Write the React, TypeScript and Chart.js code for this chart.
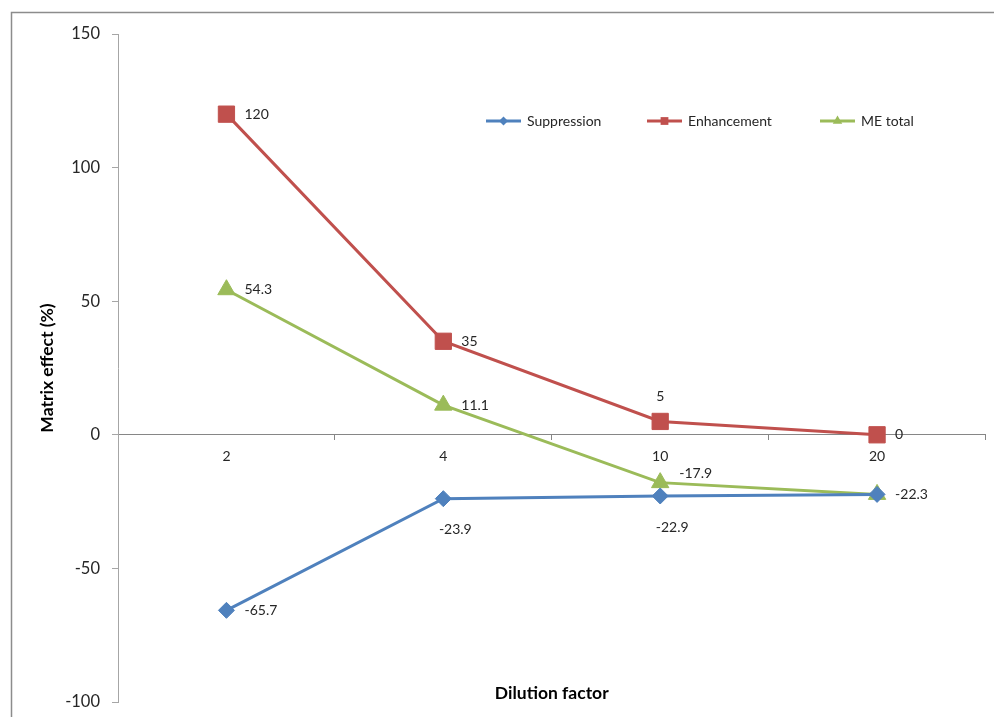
import React, { useEffect, useRef } from 'react';
import { Chart, registerables } from 'chart.js';

Chart.register(...registerables);

const categories = ['2', '4', '10', '20'];
const suppression = [-65.7, -23.9, -22.9, -22.3];
const enhancement = [120, 35, 5, 0];
const meTotal = [54.3, 11.1, -17.9, -22.3];
const seriesNames = ['Suppression', 'Enhancement', 'ME total'];
const yMin = -100;
const yMax = 150;
const yStep = 50;
const xTitle = 'Dilution factor';
const yTitle = 'Matrix effect (%)';

// label placement (style only)
const labelPlacement: (string | null)[][] = [
  ['right', 'below', 'below', null],
  ['right', 'right', 'above', 'right'],
  ['right', 'right', 'aboveRight', 'right'],
];

const BLUE = '#4F81BD';
const RED = '#C0504D';
const GREEN = '#9BBB59';
const FONT = 'Lato, "Open Sans", sans-serif';
const TEXT = '#262626';
const CANVAS_W = 998;
const CANVAS_H = 717;

const frame = {
  id: 'frame',
  beforeDraw(chart: any) {
    const ctx = chart.ctx;
    ctx.save();
    ctx.fillStyle = '#ffffff';
    ctx.fillRect(0, 0, chart.width, chart.height);
    ctx.strokeStyle = '#8c8c8c';
    ctx.lineWidth = 1.5;
    ctx.beginPath();
    ctx.moveTo(11.5, chart.height + 5);
    ctx.lineTo(11.5, 12.5);
    ctx.lineTo(chart.width + 5, 12.5);
    ctx.stroke();
    ctx.restore();
  },
};

const titles = {
  id: 'titles',
  afterDraw(chart: any) {
    const ctx = chart.ctx;
    const a = chart.chartArea;
    ctx.save();
    ctx.fillStyle = '#000';
    ctx.font = `bold 17.5px ${FONT}`;
    ctx.textAlign = 'center';
    ctx.textBaseline = 'middle';
    ctx.fillText(xTitle, (a.left + a.right) / 2, 693);
    ctx.translate(47, (a.top + a.bottom) / 2);
    ctx.rotate(-Math.PI / 2);
    ctx.fillText(yTitle, 0, 0);
    ctx.restore();
  },
};

const dataLabels = {
  id: 'dataLabels',
  afterDatasetsDraw(chart: any) {
    const ctx = chart.ctx;
    ctx.save();
    ctx.font = `14px ${FONT}`;
    ctx.fillStyle = TEXT;
    ctx.textBaseline = 'middle';
    chart.data.datasets.forEach((ds: any, di: number) => {
      const meta = chart.getDatasetMeta(di);
      meta.data.forEach((pt: any, i: number) => {
        const place = labelPlacement[di][i];
        if (!place) return;
        const txt = String(ds.data[i]);
        let x = pt.x;
        let y = pt.y;
        if (place === 'right') {
          ctx.textAlign = 'left';
          x += 18;
        } else if (place === 'below') {
          ctx.textAlign = 'center';
          x += 12;
          y += 31;
        } else if (place === 'above') {
          ctx.textAlign = 'center';
          y -= 25;
        } else if (place === 'aboveRight') {
          ctx.textAlign = 'left';
          x += 19;
          y -= 9;
        }
        ctx.fillText(txt, x, y);
      });
    });
    ctx.restore();
  },
};

function drawMarker(ctx: CanvasRenderingContext2D, style: string, r: number, x: number, y: number) {
  ctx.beginPath();
  if (style === 'rectRot') {
    ctx.moveTo(x - r, y);
    ctx.lineTo(x, y - r);
    ctx.lineTo(x + r, y);
    ctx.lineTo(x, y + r);
  } else if (style === 'rect') {
    const s = r * Math.SQRT1_2;
    ctx.rect(x - s, y - s, 2 * s, 2 * s);
  } else {
    const h = r;
    ctx.moveTo(x, y - h);
    ctx.lineTo(x + h * 0.866, y + h * 0.5);
    ctx.lineTo(x - h * 0.866, y + h * 0.5);
  }
  ctx.closePath();
  ctx.fill();
}

const customLegend = {
  id: 'customLegend',
  afterDraw(chart: any) {
    const ctx = chart.ctx;
    const a = chart.chartArea;
    const y = a.top + 87;
    const starts = [a.left + 368, a.left + 529, a.left + 702];
    const colors = [BLUE, RED, GREEN];
    const styles = ['rectRot', 'rect', 'triangle'];
    const radii = [4.5, 5.5, 5.5];
    ctx.save();
    ctx.font = `14px ${FONT}`;
    ctx.textBaseline = 'middle';
    ctx.textAlign = 'left';
    seriesNames.forEach((name, i) => {
      const x0 = starts[i];
      ctx.strokeStyle = colors[i];
      ctx.lineWidth = 3;
      ctx.beginPath();
      ctx.moveTo(x0, y);
      ctx.lineTo(x0 + 35, y);
      ctx.stroke();
      ctx.fillStyle = colors[i];
      drawMarker(ctx, styles[i], radii[i], x0 + 17.5, y);
      ctx.fillStyle = TEXT;
      ctx.fillText(name, x0 + 41, y);
    });
    ctx.restore();
  },
};

export default function App() {
  const ref = useRef<HTMLCanvasElement>(null);

  useEffect(() => {
    if (!ref.current) return;
    const mk = (label: string, data: number[], color: string, pointStyle: string, radius: number) => ({
      label,
      data,
      borderColor: color,
      backgroundColor: color,
      pointBackgroundColor: color,
      pointBorderColor: color,
      borderWidth: 3,
      pointStyle,
      pointRadius: radius,
      pointHoverRadius: radius,
      pointBorderWidth: 1,
      tension: 0,
      fill: false,
      clip: false,
    });
    const chart = new Chart(ref.current, {
      type: 'line',
      data: {
        labels: categories,
        datasets: [
          mk(seriesNames[0], suppression, BLUE, 'rectRot', 8),
          mk(seriesNames[1], enhancement, RED, 'rect', 11.5),
          mk(seriesNames[2], meTotal, GREEN, 'triangle', 10),
        ],
      },
      options: {
        responsive: false,
        animation: false,
        layout: { padding: { left: 0, top: 34, right: 3, bottom: 15 } },
        plugins: {
          legend: { display: false },
          tooltip: { enabled: false },
        },
        scales: {
          x: {
            type: 'category',
            position: { y: 0 } as any,
            offset: true,
            afterFit: (s: any) => {
              s.paddingLeft = 0;
              s.paddingRight = 0;
              s.paddingTop = 0;
              s.paddingBottom = 0;
            },
            grid: {
              offset: true,
              drawOnChartArea: false,
              drawTicks: true,
              tickLength: 5,
              color: '#868686',
            },
            border: { display: true, color: '#868686', width: 1 },
            ticks: {
              color: TEXT,
              font: { family: FONT, size: 14 },
              padding: 8,
              maxRotation: 0,
            },
          },
          y: {
            min: yMin,
            max: yMax,
            afterFit: (s: any) => {
              s.width = 118;
              s.paddingTop = 0;
              s.paddingBottom = 0;
            },
            grid: {
              drawOnChartArea: false,
              drawTicks: true,
              tickLength: 6,
              color: '#a6a6a6',
            },
            border: { display: true, color: '#a6a6a6', width: 1 },
            ticks: {
              stepSize: yStep,
              color: TEXT,
              font: { family: FONT, size: 16.5 },
              padding: 12,
            },
          },
        },
      },
      plugins: [frame, dataLabels, customLegend, titles],
    });
    return () => chart.destroy();
  }, []);

  return (
    <div style={{ position: 'fixed', left: 0, top: 0, width: CANVAS_W, height: CANVAS_H, background: '#fff' }}>
      <canvas ref={ref} width={CANVAS_W} height={CANVAS_H} style={{ display: 'block', width: CANVAS_W, height: CANVAS_H }} />
    </div>
  );
}
